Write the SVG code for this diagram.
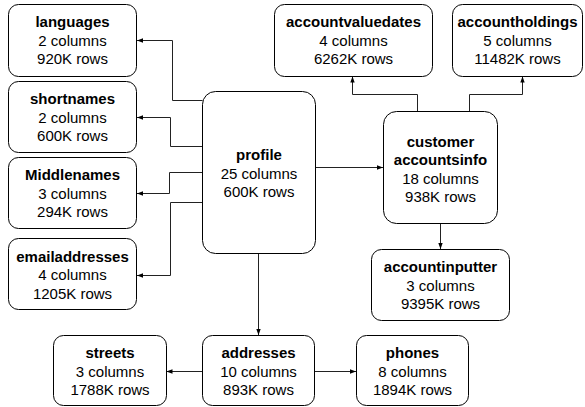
<svg xmlns="http://www.w3.org/2000/svg" width="585" height="407" viewBox="0 0 585 407">
  <style>
    .box { fill: #ffffff; stroke: #000000; stroke-width: 1; }
    .t { font-family: "Liberation Sans", Arial, sans-serif; font-size: 15px; fill: #000000; text-anchor: middle; }
    .b { font-weight: bold; }
    .edge { fill: none; stroke: #222222; stroke-width: 1; marker-end: url(#arrow); }
  </style>
  <defs>
    <marker id="arrow" markerUnits="userSpaceOnUse" markerWidth="6" markerHeight="6" viewBox="0 0 6 6" refX="6" refY="3" orient="auto">
      <path d="M0,0.8 L6,3 L0,5.2 Z" fill="#000000"/>
    </marker>
  </defs>
  <rect width="585" height="407" fill="#ffffff"/>

  <g id="connectors">
    <path class="edge" d="M202.5,100.5 H172.5 V40.5 H137"/>
    <path class="edge" d="M202.5,146.5 H170.5 V117.5 H137"/>
    <path class="edge" d="M202.5,172.5 H169.5 V193.5 H137"/>
    <path class="edge" d="M202.5,202.5 H170.5 V275.5 H137"/>
    <path class="edge" d="M315.5,167.5 H383"/>
    <path class="edge" d="M258.5,253.5 V335"/>
    <path class="edge" d="M202.5,371.5 H166.5"/>
    <path class="edge" d="M314.5,371.5 H356"/>
    <path class="edge" d="M440.5,223.5 V249"/>
    <path class="edge" d="M417.5,111 V94.5 H352.5 V76.5"/>
    <path class="edge" d="M469.5,111 V94.5 H522.5 V76.5"/>
  </g>

  <g id="languages">
    <rect class="box" x="8.5" y="4.5" width="128" height="72" rx="10"/>
    <text class="t b" x="72.5" y="27">languages</text>
    <text class="t" x="72.5" y="45.5">2 columns</text>
    <text class="t" x="72.5" y="64">920K rows</text>
  </g>
  <g id="shortnames">
    <rect class="box" x="8.5" y="81.5" width="128" height="71" rx="10"/>
    <text class="t b" x="72.5" y="104">shortnames</text>
    <text class="t" x="72.5" y="122.5">2 columns</text>
    <text class="t" x="72.5" y="141">600K rows</text>
  </g>
  <g id="middlenames">
    <rect class="box" x="8.5" y="157.5" width="128" height="71" rx="10"/>
    <text class="t b" x="72.5" y="180">Middlenames</text>
    <text class="t" x="72.5" y="198.5">3 columns</text>
    <text class="t" x="72.5" y="217">294K rows</text>
  </g>
  <g id="emailaddresses">
    <rect class="box" x="8.5" y="238.5" width="128" height="71" rx="10"/>
    <text class="t b" x="72.5" y="261.5">emailaddresses</text>
    <text class="t" x="72.5" y="280">4 columns</text>
    <text class="t" x="72.5" y="298.5">1205K rows</text>
  </g>
  <g id="profile">
    <rect class="box" x="202.5" y="91.5" width="113" height="162" rx="13"/>
    <text class="t b" x="259" y="160">profile</text>
    <text class="t" x="259" y="178.5">25 columns</text>
    <text class="t" x="259" y="197">600K rows</text>
  </g>
  <g id="accountvaluedates">
    <rect class="box" x="274.5" y="4.5" width="158" height="72" rx="10"/>
    <text class="t b" x="353.5" y="27">accountvaluedates</text>
    <text class="t" x="353.5" y="45.5">4 columns</text>
    <text class="t" x="353.5" y="64">6262K rows</text>
  </g>
  <g id="accountholdings">
    <rect class="box" x="452.5" y="4.5" width="130" height="72" rx="10"/>
    <text class="t b" x="517.5" y="27">accountholdings</text>
    <text class="t" x="517.5" y="45.5">5 columns</text>
    <text class="t" x="517.5" y="64">11482K rows</text>
  </g>
  <g id="customeraccountsinfo">
    <rect class="box" x="383.5" y="111.5" width="114" height="112" rx="13"/>
    <text class="t b" x="440.5" y="147">customer</text>
    <text class="t b" x="440.5" y="165">accountsinfo</text>
    <text class="t" x="440.5" y="183.5">18 columns</text>
    <text class="t" x="440.5" y="201.5">938K rows</text>
  </g>
  <g id="accountinputter">
    <rect class="box" x="371.5" y="249.5" width="138" height="71" rx="10"/>
    <text class="t b" x="440.5" y="272">accountinputter</text>
    <text class="t" x="440.5" y="290.5">3 columns</text>
    <text class="t" x="440.5" y="309">9395K rows</text>
  </g>
  <g id="streets">
    <rect class="box" x="53.5" y="335.5" width="113" height="70" rx="10"/>
    <text class="t b" x="110" y="358">streets</text>
    <text class="t" x="110" y="376.5">3 columns</text>
    <text class="t" x="110" y="395">1788K rows</text>
  </g>
  <g id="addresses">
    <rect class="box" x="202.5" y="335.5" width="112" height="70" rx="10"/>
    <text class="t b" x="258.5" y="358">addresses</text>
    <text class="t" x="258.5" y="376.5">10 columns</text>
    <text class="t" x="258.5" y="395">893K rows</text>
  </g>
  <g id="phones">
    <rect class="box" x="356.5" y="335.5" width="112" height="70" rx="10"/>
    <text class="t b" x="412.5" y="358">phones</text>
    <text class="t" x="412.5" y="376.5">8 columns</text>
    <text class="t" x="412.5" y="395">1894K rows</text>
  </g>
</svg>
